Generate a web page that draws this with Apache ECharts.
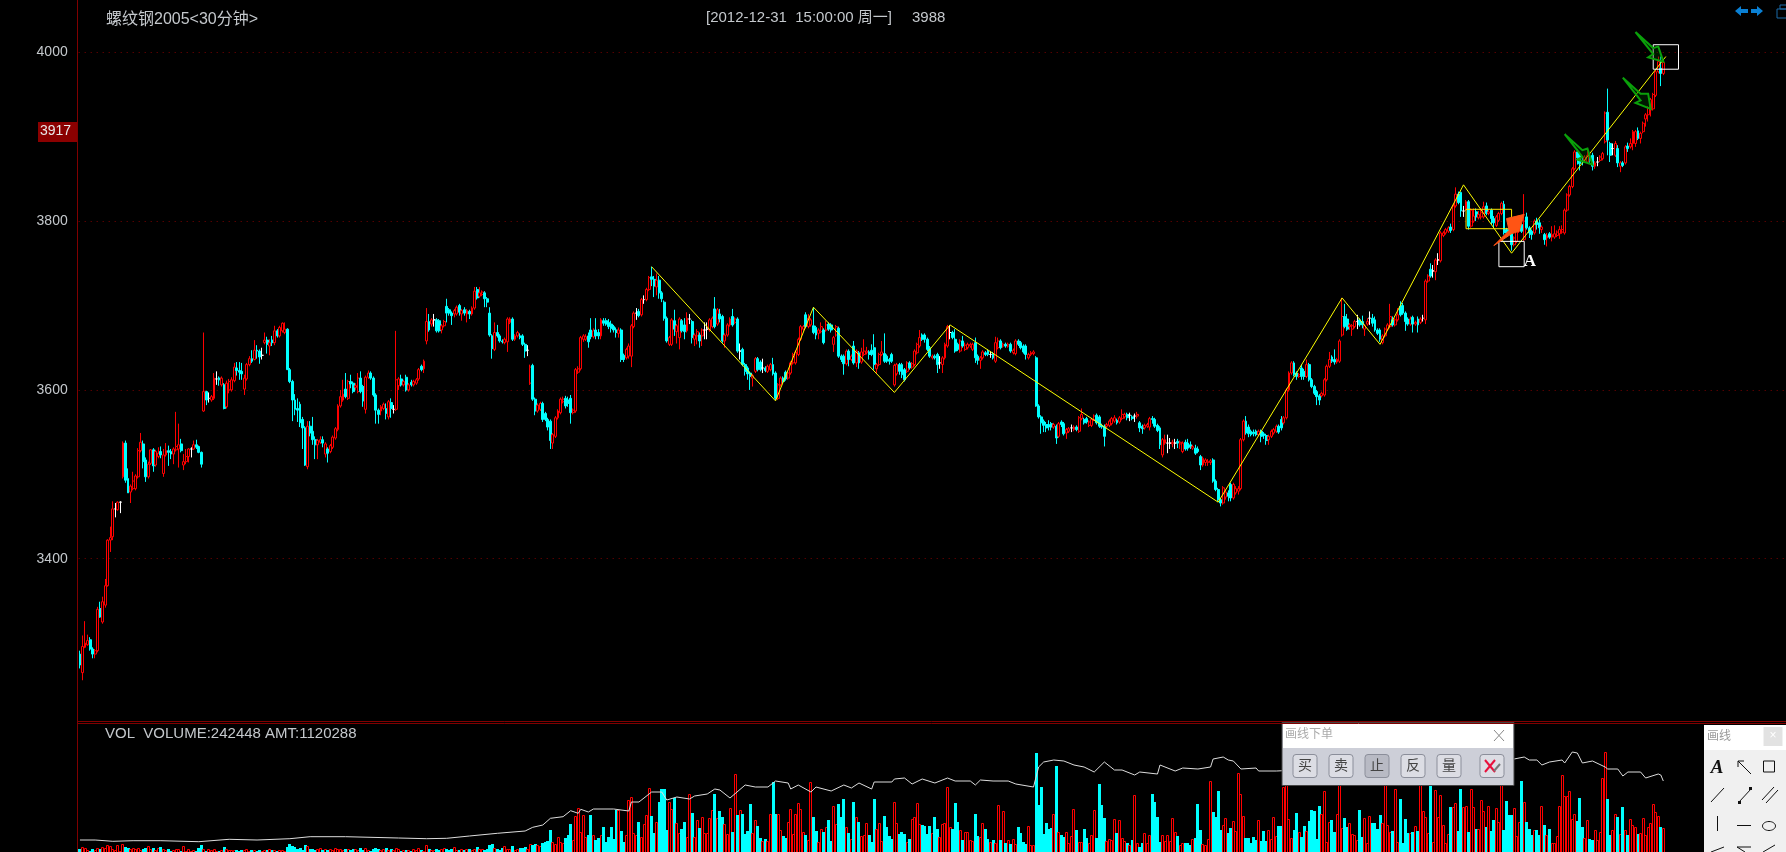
<!DOCTYPE html>
<html lang="zh">
<head>
<meta charset="UTF-8" />
<title>螺纹钢2005</title>
<script src="https://cdn.jsdelivr.net/npm/echarts@6/dist/echarts.min.js"></script>
<style>
  html, body { margin: 0; padding: 0; background: #000; overflow: hidden; }
  #main { width: 1786px; height: 852px; }
</style>
</head>
<body>
<div id="main"></div>
<script>
// K线数据，每行10根
var opens = [
3287,3265,3295,3298,3304,3293,3287,3291,3341,3325,
3345,3368,3422,3426,3459,3458,3467,3497,3537,3495,
3479,3483,3483,3497,3528,3536,3517,3497,3513,3529,
3511,3521,3527,3501,3523,3528,3527,3524,3529,3530,
3536,3511,3515,3521,3530,3530,3535,3533,3526,3575,
3598,3590,3588,3590,3613,3614,3606,3606,3580,3600,
3600,3611,3626,3623,3622,3601,3613,3630,3637,3636,
3647,3646,3641,3656,3659,3652,3659,3656,3670,3664,
3670,3668,3672,3624,3610,3588,3578,3583,3565,3555,
3509,3557,3551,3541,3535,3538,3541,3524,3530,3527,
3532,3543,3553,3581,3588,3601,3590,3610,3608,3603,
3598,3614,3604,3577,3615,3620,3614,3594,3576,3575,
3578,3578,3568,3585,3577,3577,3605,3613,3606,3615,
3600,3609,3606,3608,3613,3628,3625,3658,3681,3678,
3683,3683,3682,3671,3676,3699,3695,3691,3690,3690,
3700,3690,3695,3690,3693,3690,3697,3719,3711,3713,
3715,3708,3691,3664,3648,3668,3664,3658,3656,3657,
3680,3684,3660,3664,3664,3664,3654,3647,3608,3629,
3589,3575,3577,3584,3572,3565,3563,3537,3545,3567,
3573,3586,3590,3588,3590,3573,3575,3621,3625,3660,
3660,3664,3671,3663,3671,3668,3664,3682,3682,3680,
3678,3675,3671,3667,3671,3641,3638,3640,3640,3675,
3691,3693,3689,3707,3707,3719,3734,3731,3722,3730,
3715,3704,3685,3654,3654,3682,3669,3662,3682,3677,
3670,3684,3681,3660,3664,3665,3664,3671,3672,3671,
3675,3696,3678,3690,3687,3658,3665,3677,3687,3680,
3684,3646,3648,3630,3626,3620,3614,3622,3637,3633,
3626,3626,3622,3624,3630,3620,3590,3606,3614,3621,
3614,3620,3632,3632,3642,3660,3672,3689,3675,3677,
3676,3674,3667,3669,3671,3671,3678,3677,3654,3665,
3673,3640,3640,3631,3646,3636,3652,3632,3644,3633,
3642,3644,3645,3647,3650,3625,3630,3642,3643,3640,
3636,3642,3606,3619,3630,3630,3624,3622,3632,3627,
3630,3644,3652,3665,3665,3660,3650,3638,3640,3642,
3632,3630,3638,3652,3668,3668,3660,3654,3646,3658,
3648,3650,3652,3648,3656,3640,3635,3638,3644,3646,
3642,3643,3634,3650,3658,3652,3654,3652,3654,3644,
3643,3658,3656,3652,3652,3638,3642,3643,3638,3581,
3568,3563,3559,3559,3560,3556,3557,3545,3562,3560,
3549,3551,3555,3553,3556,3551,3566,3565,3566,3558,
3558,3565,3570,3568,3558,3557,3557,3558,3560,3563,
3564,3562,3566,3568,3571,3570,3568,3569,3569,3561,
3557,3555,3557,3556,3566,3565,3558,3555,3523,3537,
3537,3537,3536,3537,3539,3536,3527,3538,3537,3535,
3531,3531,3530,3521,3511,3514,3514,3514,3517,3492,
3482,3470,3466,3473,3478,3488,3472,3478,3480,3483,
3541,3563,3556,3551,3550,3551,3547,3551,3548,3546,
3541,3545,3549,3551,3557,3565,3561,3567,3600,3620,
3632,3620,3616,3626,3622,3616,3630,3612,3604,3598,
3593,3593,3594,3612,3628,3639,3636,3633,3634,3665,
3687,3684,3675,3672,3675,3681,3683,3681,3672,3678,
3685,3685,3683,3671,3671,3656,3664,3672,3675,3683,
3677,3683,3699,3700,3691,3684,3678,3686,3678,3684,
3680,3685,3683,3729,3743,3741,3740,3754,3753,3783,
3786,3788,3793,3790,3818,3832,3834,3812,3814,3823,
3794,3800,3811,3804,3805,3805,3818,3809,3813,3803,
3795,3801,3809,3820,3790,3792,3790,3772,3776,3788,
3796,3778,3805,3792,3788,3786,3800,3798,3790,3784,
3780,3785,3781,3781,3783,3785,3787,3786,3813,3831,
3841,3862,3882,3878,3872,3872,3870,3876,3878,3865,
3870,3872,3874,3894,3929,3892,3886,3878,3886,3865,
3869,3869,3889,3888,3892,3892,3907,3898,3906,3921,
3926,3932,3933,3949,3977,3981,3975
];
var closes = [
3274,3296,3300,3303,3293,3287,3291,3340,3331,3349,
3368,3422,3425,3459,3459,3467,3467,3537,3493,3478,
3486,3492,3498,3528,3538,3515,3497,3512,3529,3510,
3527,3525,3523,3523,3528,3526,3524,3530,3533,3535,
3528,3515,3521,3530,3530,3535,3532,3526,3512,3598,
3588,3590,3592,3614,3613,3612,3614,3578,3608,3610,
3612,3627,3623,3621,3619,3614,3630,3637,3634,3647,
3646,3639,3641,3659,3654,3656,3656,3670,3664,3674,
3679,3672,3624,3610,3588,3577,3576,3561,3555,3511,
3557,3549,3541,3535,3540,3541,3537,3536,3525,3534,
3544,3554,3581,3592,3595,3592,3610,3607,3598,3605,
3614,3598,3587,3615,3620,3614,3594,3576,3571,3580,
3583,3572,3586,3578,3577,3612,3613,3606,3610,3600,
3606,3606,3610,3612,3624,3624,3634,3681,3671,3683,
3683,3670,3670,3676,3681,3691,3691,3688,3694,3698,
3692,3694,3691,3694,3690,3697,3717,3709,3715,3716,
3708,3704,3665,3649,3668,3664,3658,3657,3660,3684,
3684,3660,3664,3668,3662,3654,3646,3647,3627,3589,
3575,3582,3584,3565,3565,3556,3540,3547,3567,3575,
3589,3589,3581,3584,3573,3576,3624,3625,3662,3664,
3663,3657,3663,3670,3664,3664,3683,3679,3678,3675,
3673,3671,3668,3671,3636,3636,3648,3652,3676,3691,
3691,3688,3707,3707,3719,3733,3731,3723,3730,3715,
3708,3685,3658,3662,3683,3672,3676,3684,3670,3669,
3685,3684,3662,3665,3669,3658,3671,3671,3672,3683,
3685,3675,3695,3684,3658,3665,3677,3684,3677,3684,
3646,3646,3630,3622,3619,3616,3617,3637,3624,3624,
3626,3623,3628,3630,3619,3590,3606,3614,3610,3613,
3620,3632,3642,3645,3660,3675,3675,3675,3685,3683,
3668,3665,3671,3675,3656,3677,3672,3671,3662,3675,
3640,3636,3631,3646,3636,3640,3632,3646,3632,3645,
3646,3646,3642,3642,3630,3630,3642,3645,3634,3634,
3634,3634,3629,3630,3622,3618,3612,3632,3626,3631,
3646,3654,3662,3660,3660,3648,3640,3640,3638,3630,
3632,3638,3654,3675,3668,3662,3646,3648,3658,3652,
3653,3654,3654,3654,3638,3635,3638,3645,3642,3642,
3642,3638,3656,3658,3650,3654,3652,3654,3646,3647,
3658,3654,3650,3645,3642,3642,3644,3645,3581,3568,
3561,3558,3555,3556,3556,3559,3543,3560,3559,3548,
3553,3554,3555,3556,3553,3567,3571,3561,3562,3562,
3565,3569,3561,3557,3556,3545,3559,3563,3566,3567,
3561,3567,3571,3571,3567,3570,3566,3569,3571,3555,
3554,3558,3559,3566,3565,3557,3552,3535,3541,3541,
3537,3537,3538,3537,3537,3538,3537,3530,3531,3532,
3533,3525,3527,3511,3519,3517,3515,3516,3492,3482,
3470,3466,3484,3479,3474,3472,3488,3483,3483,3541,
3563,3549,3548,3547,3548,3547,3551,3545,3546,3540,
3545,3551,3553,3557,3550,3555,3567,3600,3620,3632,
3618,3616,3618,3616,3616,3630,3612,3604,3596,3592,
3588,3596,3612,3628,3636,3634,3633,3636,3658,3687,
3675,3672,3677,3676,3681,3681,3677,3677,3676,3681,
3685,3679,3671,3667,3660,3664,3672,3677,3687,3677,
3683,3689,3689,3691,3681,3678,3684,3678,3680,3677,
3684,3685,3729,3735,3735,3741,3754,3754,3786,3786,
3790,3792,3789,3818,3832,3822,3812,3812,3823,3794,
3813,3806,3805,3808,3810,3817,3809,3811,3803,3798,
3805,3809,3821,3786,3786,3788,3772,3780,3790,3792,
3788,3800,3792,3786,3784,3800,3796,3792,3793,3778,
3783,3781,3784,3785,3787,3790,3790,3813,3831,3841,
3862,3882,3875,3868,3870,3876,3878,3872,3865,3869,
3870,3876,3880,3928,3896,3878,3886,3892,3869,3869,
3866,3888,3886,3892,3906,3906,3898,3904,3916,3926,
3934,3944,3950,3977,3989,3975,3988
];
var lows = [
3270,3256,3294,3297,3291,3282,3282,3289,3330,3323,
3342,3367,3408,3422,3449,3457,3454,3495,3490,3478,
3466,3481,3481,3495,3526,3507,3491,3495,3511,3503,
3509,3519,3519,3497,3521,3510,3518,3512,3527,3508,
3526,3505,3512,3514,3520,3529,3530,3525,3508,3574,
3582,3585,3586,3588,3606,3605,3604,3577,3578,3596,
3598,3609,3617,3612,3612,3594,3611,3628,3632,3635,
3637,3631,3636,3654,3643,3641,3652,3653,3662,3662,
3668,3666,3624,3608,3563,3570,3562,3556,3530,3510,
3506,3545,3535,3518,3518,3536,3532,3520,3514,3525,
3530,3541,3551,3579,3586,3590,3588,3602,3596,3600,
3596,3596,3580,3572,3613,3612,3592,3560,3560,3570,
3576,3565,3565,3567,3572,3575,3600,3604,3604,3598,
3598,3604,3604,3606,3611,3622,3620,3654,3669,3675,
3675,3668,3668,3667,3674,3680,3688,3677,3686,3688,
3688,3682,3688,3680,3684,3688,3695,3707,3709,3711,
3698,3698,3663,3637,3646,3662,3656,3655,3654,3645,
3678,3658,3658,3662,3660,3652,3638,3640,3606,3587,
3570,3573,3575,3562,3563,3552,3530,3530,3543,3565,
3571,3584,3578,3580,3560,3571,3573,3619,3623,3657,
3658,3650,3660,3661,3660,3660,3660,3676,3676,3672,
3668,3668,3662,3662,3633,3633,3636,3637,3627,3673,
3683,3686,3687,3702,3705,3717,3723,3710,3712,3708,
3704,3682,3656,3652,3652,3664,3655,3648,3668,3660,
3668,3678,3655,3652,3654,3650,3652,3660,3660,3669,
3673,3673,3676,3680,3656,3650,3663,3675,3675,3678,
3644,3636,3628,3617,3612,3600,3604,3620,3622,3622,
3620,3621,3620,3622,3617,3588,3588,3604,3608,3611,
3612,3618,3630,3630,3640,3658,3670,3673,3673,3675,
3666,3660,3660,3667,3654,3669,3670,3668,3645,3663,
3638,3633,3618,3629,3628,3634,3630,3627,3625,3631,
3640,3642,3636,3640,3624,3620,3628,3640,3632,3632,
3630,3632,3604,3617,3618,3614,3610,3620,3624,3625,
3628,3642,3650,3658,3656,3646,3638,3636,3636,3620,
3625,3620,3636,3650,3660,3660,3644,3646,3644,3650,
3646,3648,3650,3646,3632,3630,3625,3636,3640,3640,
3638,3636,3632,3648,3648,3650,3650,3650,3644,3642,
3641,3652,3648,3643,3636,3636,3640,3641,3580,3566,
3548,3550,3550,3552,3552,3554,3536,3543,3556,3546,
3542,3549,3550,3551,3551,3549,3564,3559,3560,3556,
3556,3563,3559,3555,3554,3533,3555,3556,3558,3561,
3559,3560,3564,3566,3564,3563,3564,3562,3566,3550,
3548,3553,3555,3552,3560,3555,3550,3530,3520,3535,
3525,3530,3532,3530,3531,3530,3525,3528,3528,3530,
3529,3523,3525,3505,3509,3510,3510,3511,3490,3480,
3468,3462,3464,3470,3468,3468,3470,3476,3476,3481,
3539,3547,3544,3545,3545,3545,3545,3538,3542,3535,
3535,3543,3547,3549,3548,3552,3559,3565,3598,3618,
3616,3612,3614,3612,3612,3614,3610,3602,3594,3582,
3582,3591,3592,3610,3626,3632,3630,3631,3632,3663,
3673,3670,3671,3664,3673,3672,3675,3673,3664,3676,
3677,3675,3669,3665,3657,3654,3662,3670,3673,3675,
3675,3681,3687,3689,3670,3676,3676,3668,3676,3668,
3678,3681,3678,3727,3733,3733,3730,3748,3751,3781,
3784,3786,3786,3788,3816,3820,3805,3805,3812,3790,
3792,3798,3800,3802,3802,3803,3807,3807,3796,3792,
3793,3799,3807,3784,3782,3784,3765,3770,3774,3786,
3786,3776,3790,3780,3778,3784,3790,3785,3786,3772,
3770,3779,3776,3779,3781,3779,3785,3784,3811,3829,
3839,3860,3867,3860,3866,3870,3868,3868,3860,3862,
3865,3870,3872,3892,3878,3870,3878,3876,3864,3858,
3864,3867,3882,3886,3884,3888,3896,3892,3904,3912,
3918,3924,3931,3947,3975,3960,3973
];
var highs = [
3291,3309,3326,3310,3307,3295,3293,3343,3349,3355,
3376,3423,3438,3468,3466,3468,3468,3539,3540,3507,
3488,3503,3500,3531,3549,3540,3520,3515,3530,3531,
3529,3532,3533,3530,3537,3534,3530,3532,3574,3560,
3542,3524,3530,3531,3532,3540,3541,3534,3527,3668,
3599,3597,3594,3620,3622,3616,3616,3608,3611,3613,
3615,3632,3633,3633,3632,3618,3632,3640,3647,3659,
3653,3648,3650,3668,3663,3660,3664,3676,3672,3676,
3680,3680,3673,3626,3612,3595,3590,3586,3568,3557,
3563,3563,3568,3545,3542,3545,3545,3538,3532,3536,
3546,3556,3583,3600,3612,3620,3612,3618,3610,3608,
3620,3622,3606,3617,3623,3622,3616,3596,3578,3582,
3585,3584,3588,3590,3582,3670,3615,3618,3612,3618,
3608,3612,3612,3614,3626,3630,3636,3697,3690,3685,
3690,3685,3684,3678,3683,3708,3697,3693,3696,3700,
3702,3696,3698,3696,3695,3699,3722,3722,3722,3718,
3717,3710,3698,3666,3680,3677,3666,3660,3662,3686,
3686,3686,3666,3670,3667,3666,3656,3653,3630,3631,
3591,3584,3586,3586,3574,3567,3565,3549,3569,3577,
3591,3592,3593,3592,3594,3578,3626,3628,3664,3666,
3666,3668,3685,3673,3685,3672,3685,3685,3685,3684,
3682,3677,3674,3674,3673,3643,3650,3655,3678,3693,
3697,3696,3709,3712,3721,3735,3746,3735,3738,3735,
3717,3706,3687,3664,3685,3695,3678,3686,3684,3685,
3692,3690,3683,3667,3672,3668,3673,3680,3680,3685,
3687,3710,3697,3696,3689,3667,3679,3686,3696,3686,
3686,3655,3650,3632,3628,3622,3619,3639,3639,3635,
3637,3628,3630,3632,3638,3622,3608,3616,3616,3623,
3622,3634,3644,3647,3662,3677,3677,3692,3690,3685,
3698,3676,3673,3680,3673,3682,3680,3679,3664,3677,
3675,3642,3642,3648,3648,3642,3658,3648,3646,3650,
3660,3651,3647,3654,3666,3632,3644,3658,3667,3642,
3638,3644,3631,3632,3632,3632,3626,3634,3634,3633,
3648,3656,3671,3667,3667,3662,3652,3642,3642,3644,
3640,3640,3656,3677,3677,3670,3672,3656,3660,3664,
3656,3656,3656,3656,3662,3642,3640,3647,3646,3648,
3646,3645,3663,3662,3660,3656,3656,3656,3656,3649,
3660,3660,3658,3654,3654,3644,3646,3647,3640,3583,
3570,3565,3562,3564,3562,3561,3559,3562,3564,3562,
3555,3556,3559,3558,3558,3569,3578,3567,3568,3564,
3567,3571,3572,3570,3560,3559,3561,3565,3568,3570,
3566,3569,3577,3573,3573,3573,3570,3572,3574,3563,
3559,3560,3561,3568,3569,3567,3560,3557,3543,3547,
3547,3543,3541,3542,3542,3540,3539,3541,3542,3539,
3535,3535,3533,3523,3521,3519,3518,3518,3519,3494,
3484,3472,3486,3482,3481,3490,3490,3486,3486,3543,
3565,3569,3559,3553,3553,3553,3553,3553,3550,3548,
3547,3553,3555,3559,3559,3569,3569,3602,3622,3634,
3634,3622,3620,3630,3625,3636,3632,3614,3606,3600,
3595,3598,3614,3630,3645,3641,3648,3638,3660,3709,
3702,3690,3679,3678,3683,3689,3685,3688,3678,3685,
3693,3690,3687,3673,3673,3666,3674,3679,3702,3687,
3685,3697,3705,3703,3693,3686,3687,3688,3682,3687,
3686,3689,3731,3737,3750,3748,3756,3762,3788,3788,
3792,3794,3797,3820,3840,3835,3835,3818,3825,3825,
3815,3815,3815,3812,3815,3823,3822,3814,3815,3806,
3807,3811,3823,3824,3792,3794,3792,3782,3796,3800,
3798,3832,3810,3794,3790,3802,3804,3802,3795,3786,
3786,3787,3794,3795,3789,3794,3795,3815,3833,3843,
3864,3884,3885,3882,3876,3878,3885,3880,3881,3871,
3876,3878,3882,3930,3957,3894,3892,3895,3890,3871,
3871,3890,3893,3898,3908,3908,3911,3906,3918,3928,
3936,3946,3952,3979,3995,3995,3990
];
// 成交量，单位千手
var volumes = [
30,50,40,20,10,30,20,40,30,50,
40,70,60,30,20,70,10,80,50,40,
30,40,30,40,20,30,40,60,30,40,
20,40,50,30,20,30,10,20,30,30,
10,60,10,30,10,20,10,40,70,30,
10,30,20,30,10,10,20,50,30,20,
20,20,20,10,20,20,30,10,20,20,
10,20,10,20,20,30,20,20,10,20,
20,10,50,80,60,50,30,40,20,70,
60,30,30,20,30,40,20,30,20,30,
20,40,30,30,20,30,30,20,30,30,
20,40,20,40,20,10,30,40,30,20,
30,40,20,30,20,40,30,10,20,20,
20,10,30,20,40,20,10,70,30,20,
20,30,20,30,40,30,20,30,50,20,
20,30,20,30,30,20,30,50,30,30,
20,30,70,80,40,30,20,40,60,30,
30,60,20,30,40,40,50,30,80,70,
80,70,60,90,100,110,220,100,80,150,
100,90,140,170,280,120,360,440,200,370,
150,170,370,170,120,140,170,250,100,150,
250,130,420,
420,210,100,170,520,550,190,170,300,150,
280,370,640,360,190,300,500,630,630,220,
500,430,540,290,190,230,300,150,580,390,150,
320,240,350,190,190,340,420,580,340,410,
350,280,180,440,200,780,370,420,380,180,
210,480,190,320,260,140,110,130,110,380,
700,380,380,220,160,140,300,430,180,380,
490,430,200,170,120,700,350,210,100,230,200,
250,320,110,460,280,480,350,530,250,190,
130,500,350,300,160,170,290,170,100,530,
230,290,110,360,250,160,130,500,290,180,
200,180,100,130,330,350,490,280,270,260,180,
260,190,350,230,150,280,290,650,250,230,
490,300,220,120,200,200,120,110,380,160,150,
290,230,130,100,120,90,470,120,410,90,120,
80,130,80,250,190,100,80,260,70,70,
990,470,650,180,290,230,240,380,860,200,
170,150,200,90,160,430,220,100,100,230,
140,90,170,420,140,680,470,340,110,130,
120,330,190,320,140,110,90,70,120,570,
90,50,90,190,90,170,580,500,350,100,
170,110,170,110,340,200,160,70,90,90,
90,70,130,140,480,220,80,70,130,710,
400,350,610,220,270,340,190,240,310,210,
790,580,360,140,
140,90,150,120,320,110,210,110,220,130,
350,160,260,260,650,670,330,140,220,390,
200,150,260,210,310,420,410,130,460,380,
610,100,300,320,200,380,670,240,340,250,
290,180,170,120,420,150,340,90,360,290,
290,230,370,290,670,270,200,210,630,100,
530,90,330,190,190,200,260,210,670,410,
350,190,670,100,620,350,570,270,90,180,
450,450,490,210,630,450,460,200,630,450,
230,230,520,410,250,460,210,320,440,300,
670,220,510,370,370,440,160,300,710,500,
300,230,170,220,220,170,460,270,170,230,
90,90,160,460,770,560,560,610,330,380,
310,540,250,140,320,130,120,220,120,200,
740,1000,530,170,220,380,350,180,450,220,
170,330,270,250,180,190,340,170,250,290,
480,400,360,250,242
];
// 均量线，按K线序号取点
var volAvg = [
[0,120],[6,120],[13,107],[21,113],[32,113],[47,103],[59,127],[70,120],[83,133],[91,153],[105,153],[126,140],[137,133],[145,137],[154,160],[165,187],[176,210],[179,247],[183,270],[186,337],[191,353],[194,413],[197,387],[198,427],[201,400],[203,430],[211,430],[217,410],[218,500],[221,500],[226,600],[230,600],[232,520],[236,550],[241,530],[243,560],[248,580],[251,630],[253,620],[257,540],[263,670],[267,650],[272,650],[275,710],[280,690],[281,630],[284,670],[289,600],[291,650],[297,610],[302,670],[305,640],[308,690],[313,630],[314,700],[321,700],[322,730],[326,740],[329,680],[333,730],[338,690],[343,740],[346,710],[352,710],[354,670],[356,720],[361,710],[367,710],[370,680],[377,650],[379,850],[381,900],[385,920],[389,910],[393,870],[397,850],[401,800],[405,900],[409,820],[412,820],[417,770],[419,800],[426,780],[427,870],[433,810],[436,840],[442,830],[447,850],[448,930],[452,950],[454,920],[456,910],[459,830],[465,840],[466,810],[473,810],[490,830],[510,820],[530,840],[550,880],[567,930],[571,950],[573,920],[576,920],[578,870],[581,900],[586,920],[587,890],[590,1000],[592,990],[594,890],[598,910],[603,850],[604,830],[608,830],[610,760],[612,800],[617,800],[619,740],[624,780],[625,770],[626,710]
];
var yTicks = { min: 3200, max: 4062, step: 200 };
// 手工画线：波段折线、方框、箭头
var zigzag = [[226,3746],[275,3587],[290,3698],[322,3597],[344,3677],[450,3467],[499,3709],[514,3654],[547,3843],[566,3762],[627,3995]];
var yellowBox = [[548,3814],[566,3814],[566,3791],[548,3791],[548,3814]];
var whiteBoxA = [[561,3776],[571,3776],[571,3746],[561,3746],[561,3776]];
var whiteBoxB = [[622,4009],[632,4009],[632,3980],[622,3980],[622,4009]];
var arrowOrange = [[559,3771],[565,3789],[564,3803],[571,3808],[569,3788],[566,3785]];
var arrowGreen1 = [[587,3903],[594,3884],[596,3886],[598,3867],[592,3873],[594,3876]];
var arrowGreen2 = [[610,3970],[617,3951],[620,3951],[621,3933],[615,3940],[617,3943]];
var arrowGreen3 = [[615,4024],[622,4005],[624,4007],[626,3989],[620,3994],[622,3998]];

// 横轴留出右侧空白
var categories = [];
for (var i = 0; i < 675; i++) categories.push(String(i));

var candleData = opens.map(function (o, k) {
  return [o, closes[k], lows[k], highs[k]];
});
var arrows = [
  { pts: arrowOrange, fill: '#ff5414', stroke: '#ff5414', lw: 1 },
  { pts: arrowGreen1, fill: 'rgba(0,70,0,0.35)', stroke: '#0aa00a', lw: 2 },
  { pts: arrowGreen2, fill: 'rgba(0,70,0,0.35)', stroke: '#0aa00a', lw: 2 },
  { pts: arrowGreen3, fill: 'rgba(0,70,0,0.35)', stroke: '#0aa00a', lw: 2 }
];

var GRAY = '#c4c8cc';
var SANS = '"Liberation Sans","Noto Sans CJK SC"';
function txt(s, x, y, size, color, extra) {
  return {
    type: 'text', silent: true, z: 100,
    style: Object.assign({
      text: s, x: x, y: y, fill: color, font: size + 'px ' + SANS, verticalAlign: 'middle', align: 'left'
    }, extra || {})
  };
}
function ln(x1, y1, x2, y2, color, w, z) {
  return {
    type: 'line', silent: true, z: z || 100,
    shape: { x1: x1, y1: y1, x2: x2, y2: y2 },
    style: { stroke: color, lineWidth: w || 1 }
  };
}
function box(x, y, w, h, fill, stroke, r, z) {
  return {
    type: 'rect', silent: true, z: z || 99,
    shape: { x: x, y: y, width: w, height: h, r: r || 0 },
    style: { fill: fill, stroke: stroke || null, lineWidth: 1 }
  };
}
function poly(points, fill, z) {
  return { type: 'polygon', silent: true, z: z || 100, shape: { points: points }, style: { fill: fill } };
}

var graphics = [
  // 边框
  ln(77.5, 0, 77.5, 852, '#800000'),
  ln(77, 721.5, 1786, 721.5, '#800000'),
  ln(77, 723.5, 1786, 723.5, '#800000'),
  // 标题
  txt('螺纹钢2005<30分钟>', 106, 20, 16, GRAY),
  txt('[2012-12-31  15:00:00 周一]', 706, 18, 15, GRAY),
  txt('3988', 912, 18, 15, GRAY),
  txt('VOL  VOLUME:242448 AMT:1120288', 105, 734, 15, GRAY),
  // 当前价标签
  box(38, 122, 40, 20, '#8b0000'),
  txt('3917', 40, 131, 14, '#e8e8e8'),
  txt('A', 1530, 262, 17, '#fff', { font: 'bold 17px "Liberation Serif"', align: 'center' }),
  // 右上角图标
  poly([[1735,11],[1741,6],[1741,9],[1748,9],[1748,13],[1741,13],[1741,16]], '#0a80d4'),
  poly([[1763,11],[1757,6],[1757,9],[1751,9],[1751,13],[1757,13],[1757,16]], '#0a80d4'),
  box(1777, 9, 10, 9, 'none', '#1a6aa8'),
  box(1780, 5, 7, 4, 'none', '#1a6aa8'),
  // 画线下单窗口
  box(1282, 722.5, 232, 63, '#cdcfd8', '#444'),
  box(1283, 723, 230, 25, '#fff', null),
  txt('画线下单', 1285, 735, 12, '#aaa'),
  ln(1494, 730, 1504, 741, '#888'),
  ln(1504, 730, 1494, 741, '#888')
];
// 窗口按钮
var buyButtons = [['买', 1305], ['卖', 1341], ['止', 1377], ['反', 1413], ['量', 1449]];
buyButtons.forEach(function (b) {
  graphics.push(box(b[1] - 12, 754.5, 24, 23, b[0] === '止' ? '#b8bac4' : '#dcdde4', '#8b8e9a', 3, 100));
  graphics.push(txt(b[0], b[1], 766, 14, '#444', { align: 'center', z: 101 }));
});
graphics.push(box(1480, 754.5, 24, 23, '#dcdde4', '#8b8e9a', 3, 100));
graphics.push(ln(1485, 760, 1495, 772, '#e8103c', 2, 101));
graphics.push(ln(1495, 760, 1485, 772, '#e8103c', 2, 101));
graphics.push(ln(1494, 771, 1500, 764, '#777', 2, 101));
// 画线工具栏
graphics.push(box(1704, 725, 82, 127, '#f0f0f0', null));
graphics.push(box(1704, 725, 82, 25, '#fff', null, 0, 100));
graphics.push(txt('画线', 1707, 737, 12, '#999'));
graphics.push(box(1763.5, 727, 19, 19, '#e2e2e2', null, 0, 100));
graphics.push(txt('×', 1773, 736, 12, '#fff', { align: 'center', z: 101 }));
graphics.push(txt('A', 1717, 768, 18, '#111', { font: 'italic bold 19px "Liberation Serif"', align: 'center' }));
graphics.push(ln(1738, 761, 1751, 774, '#111'));
graphics.push(ln(1738, 761, 1738, 767, '#111'));
graphics.push(ln(1738, 761, 1744, 761, '#111'));
graphics.push(box(1763.5, 761, 11, 11, 'none', '#111', 0, 100));
graphics.push(ln(1711, 802, 1724, 788, '#111'));
graphics.push(ln(1739, 802, 1751, 789, '#111'));
graphics.push(box(1738, 801, 3, 3, '#111', null, 0, 101));
graphics.push(box(1749, 787, 3, 3, '#111', null, 0, 101));
graphics.push(ln(1762, 800, 1774, 787, '#111'));
graphics.push(ln(1766, 803, 1778, 790, '#111'));
graphics.push(ln(1717.5, 816, 1717.5, 831, '#111'));
graphics.push(ln(1737, 825.5, 1751, 825.5, '#111'));
graphics.push({ type: 'ellipse', silent: true, z: 100, shape: { cx: 1769, cy: 826, rx: 6.5, ry: 4.5 }, style: { fill: 'none', stroke: '#111' } });
graphics.push(ln(1711, 852, 1724, 847, '#111'));
graphics.push(ln(1737, 847, 1751, 847, '#111'));
graphics.push(ln(1737, 847, 1745, 852, '#111'));
graphics.push(ln(1763, 852, 1775, 845, '#111'));

var chart = echarts.init(document.getElementById('main'));
var option = {
  backgroundColor: '#000',
  animation: false,
  textStyle: { fontFamily: SANS },
  grid: [
    { left: 78.7, right: 0, top: 0, height: 727.5 },
    { left: 78.7, right: 0, top: 724, height: 128 }
  ],
  xAxis: [
    { type: 'category', gridIndex: 0, data: categories, show: false },
    { type: 'category', gridIndex: 1, data: categories, show: false }
  ],
  yAxis: [
    {
      type: 'value', gridIndex: 0, scale: true,
      min: yTicks.min, max: yTicks.max, interval: yTicks.step,
      axisLine: { show: false }, axisTick: { show: false },
      axisLabel: {
        color: GRAY, fontSize: 14, margin: 11, showMinLabel: false, showMaxLabel: false,
        formatter: function (v) { return String(v); }
      },
      splitLine: { show: true, showMinLine: false, showMaxLine: false, lineStyle: { color: '#7c0000', type: [1, 5], width: 1 } }
    },
    {
      type: 'value', gridIndex: 1, min: 0, max: 1280, show: false, splitLine: { show: false }
    }
  ],
  series: [
    {
      type: 'candlestick', xAxisIndex: 0, yAxisIndex: 0, data: candleData,
      large: false, progressive: 0, barWidth: 2.4, clip: false,
      itemStyle: {
        color: 'rgba(0,0,0,0)', color0: '#0ff',
        borderColor: '#f00', borderColor0: '#0ff', borderColorDoji: '#fff', borderWidth: 1
      }
    },
    {
      type: 'line', xAxisIndex: 0, yAxisIndex: 0, data: zigzag, symbol: 'none', z: 5,
      lineStyle: { color: '#ffff00', width: 1 }
    },
    {
      type: 'line', xAxisIndex: 0, yAxisIndex: 0, data: yellowBox, symbol: 'none', z: 6, clip: false,
      lineStyle: { color: '#ffe800', width: 1 }
    },
    {
      type: 'line', xAxisIndex: 0, yAxisIndex: 0, data: whiteBoxA, symbol: 'none', z: 6,
      lineStyle: { color: '#fff', width: 1 }
    },
    {
      type: 'line', xAxisIndex: 0, yAxisIndex: 0, data: whiteBoxB, symbol: 'none', z: 6,
      lineStyle: { color: '#fff', width: 1 }
    },
    {
      type: 'custom', xAxisIndex: 0, yAxisIndex: 0, z: 7, silent: true,
      data: arrows.map(function (a, k) { return [k]; }),
      renderItem: function (params, api) {
        var a = arrows[params.dataIndex];
        return {
          type: 'polygon',
          shape: { points: a.pts.map(function (p) { return api.coord(p); }) },
          style: { fill: a.fill, stroke: a.stroke, lineWidth: a.lw }
        };
      }
    },
    {
      // 成交量柱，像素取整保持线条清晰
      type: 'custom', xAxisIndex: 1, yAxisIndex: 1, silent: true, z: 2,
      encode: { x: 0, y: 1 },
      data: volumes.map(function (v, k) { return [k, v]; }),
      renderItem: function (params, api) {
        var k = api.value(0);
        var top = api.coord([k, api.value(1)]);
        var y = Math.round(top[1]);
        var x = Math.round(top[0] - 1.5);
        var h = 852 - y;
        if (closes[k] >= opens[k]) {
          return {
            type: 'rect',
            shape: { x: x + 0.5, y: y + 0.5, width: 2, height: h },
            style: { fill: 'rgba(0,0,0,0)', stroke: '#f00', lineWidth: 1 }
          };
        }
        return { type: 'rect', shape: { x: x, y: y, width: 3, height: h }, style: { fill: '#0ff' } };
      }
    },
    {
      type: 'line', xAxisIndex: 1, yAxisIndex: 1, data: volAvg, symbol: 'none', z: 8,
      lineStyle: { color: '#ddd', width: 1 }
    }
  ],
  graphic: { elements: graphics }
};
chart.setOption(option);
</script>
</body>
</html>
